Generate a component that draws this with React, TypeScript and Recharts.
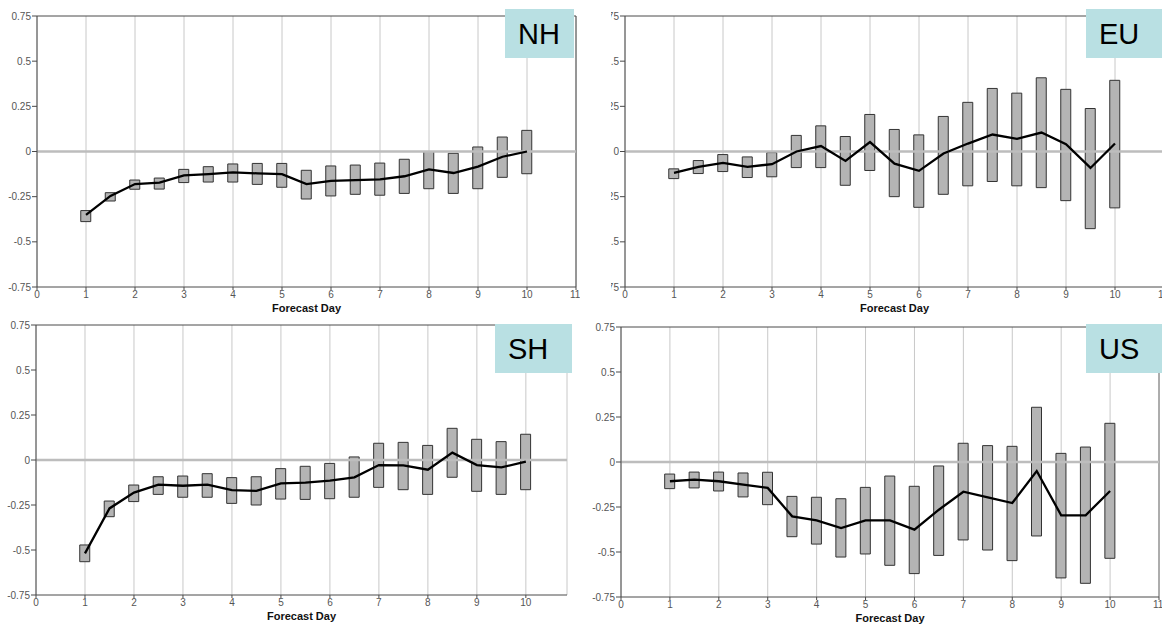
import {
  Bar,
  CartesianGrid,
  ComposedChart,
  Line,
  ReferenceLine,
  XAxis,
  YAxis,
} from 'recharts';

const DAYS = [1, 1.5, 2, 2.5, 3, 3.5, 4, 4.5, 5, 5.5, 6, 6.5, 7, 7.5, 8, 8.5, 9, 9.5, 10];
const Y_TICKS = [-0.75, -0.5, -0.25, 0, 0.25, 0.5, 0.75];
const X_TICKS_11 = [0, 1, 2, 3, 4, 5, 6, 7, 8, 9, 10, 11];
const X_TICKS_10 = [0, 1, 2, 3, 4, 5, 6, 7, 8, 9, 10];

const NH_MEAN = [-0.351, -0.246, -0.18, -0.172, -0.132, -0.125, -0.115, -0.121, -0.125, -0.18, -0.163, -0.158, -0.154, -0.137, -0.099, -0.119, -0.084, -0.029, 0.0];
const NH_LOW = [-0.388, -0.274, -0.209, -0.208, -0.172, -0.169, -0.169, -0.182, -0.198, -0.263, -0.246, -0.237, -0.242, -0.232, -0.206, -0.232, -0.206, -0.143, -0.123];
const NH_HIGH = [-0.327, -0.228, -0.158, -0.147, -0.099, -0.084, -0.069, -0.066, -0.066, -0.104, -0.08, -0.075, -0.064, -0.043, 0.0, -0.01, 0.025, 0.08, 0.117];

const EU_MEAN = [-0.118, -0.085, -0.063, -0.085, -0.07, 0.0, 0.03, -0.052, 0.052, -0.067, -0.107, -0.011, 0.044, 0.094, 0.07, 0.105, 0.041, -0.091, 0.044];
const EU_LOW = [-0.15, -0.122, -0.111, -0.144, -0.14, -0.089, -0.089, -0.187, -0.105, -0.25, -0.309, -0.237, -0.19, -0.166, -0.19, -0.2, -0.272, -0.427, -0.312];
const EU_HIGH = [-0.096, -0.05, -0.017, -0.03, -0.006, 0.089, 0.142, 0.083, 0.205, 0.122, 0.092, 0.194, 0.272, 0.349, 0.323, 0.408, 0.344, 0.238, 0.394];

const SH_MEAN = [-0.519, -0.269, -0.181, -0.137, -0.143, -0.137, -0.167, -0.172, -0.13, -0.126, -0.115, -0.096, -0.028, -0.03, -0.054, 0.041, -0.028, -0.041, -0.009];
const SH_LOW = [-0.565, -0.315, -0.231, -0.191, -0.207, -0.207, -0.241, -0.25, -0.217, -0.219, -0.215, -0.207, -0.152, -0.165, -0.191, -0.096, -0.174, -0.191, -0.165];
const SH_HIGH = [-0.472, -0.228, -0.139, -0.093, -0.089, -0.076, -0.098, -0.093, -0.048, -0.035, -0.019, 0.017, 0.093, 0.098, 0.081, 0.176, 0.115, 0.102, 0.143];

const US_MEAN = [-0.107, -0.098, -0.107, -0.126, -0.144, -0.302, -0.324, -0.367, -0.324, -0.324, -0.376, -0.265, -0.165, -0.196, -0.228, -0.05, -0.296, -0.296, -0.161];
const US_LOW = [-0.148, -0.144, -0.161, -0.194, -0.237, -0.415, -0.456, -0.528, -0.511, -0.574, -0.62, -0.519, -0.433, -0.489, -0.548, -0.411, -0.644, -0.674, -0.535];
const US_HIGH = [-0.067, -0.056, -0.056, -0.061, -0.057, -0.191, -0.196, -0.204, -0.141, -0.078, -0.135, -0.022, 0.104, 0.091, 0.087, 0.304, 0.048, 0.083, 0.215];

const AXIS = '#4a4a4a';
const TEXT = '#555';
const FONT = '"Liberation Sans", Arial, sans-serif';

function buildRows(mean: number[], low: number[], high: number[]) {
  return DAYS.map((day, i) => ({ day, range: [low[i], high[i]], mean: mean[i] }));
}

type PanelProps = {
  rows: { day: number; range: number[]; mean: number }[];
  width: number;
  height: number;
  xMax: number;
  xTicks: number[];
  yAxisWidth: number;
  rightBorder?: string;
};

function Panel({ rows, width, height, xMax, xTicks, yAxisWidth, rightBorder }: PanelProps) {
  return (
    <ComposedChart
      width={width}
      height={height}
      data={rows}
      margin={{ top: 16, right: 4, left: 0, bottom: 0 }}
      style={{ fontFamily: FONT }}
    >
      <CartesianGrid vertical horizontal={false} stroke="#c8c8c8" />
      <XAxis
        dataKey="day"
        type="number"
        scale="linear"
        domain={[0, xMax]}
        allowDataOverflow
        ticks={xTicks}
        height={33}
        stroke={AXIS}
        tickSize={3}
        tickMargin={1}
        tick={{ fontSize: 10, fill: TEXT }}
        label={{ value: 'Forecast Day', position: 'insideBottom', offset: 8, fontSize: 11, fontWeight: 700, fill: '#111' }}
      />
      <YAxis
        type="number"
        domain={[-0.75, 0.75]}
        ticks={Y_TICKS}
        width={yAxisWidth}
        stroke={AXIS}
        tickSize={5}
        tickMargin={1}
        tick={{ fontSize: 10, fill: TEXT }}
      />
      <ReferenceLine y={0.75} stroke={AXIS} strokeWidth={1} />
      {rightBorder && <ReferenceLine x={xMax} stroke={rightBorder} strokeWidth={1} />}
      <ReferenceLine y={0} stroke="#bdbdbd" strokeWidth={2.5} />
      <Bar dataKey="range" barSize={10} fill="#b4b4b4" stroke="#333" strokeWidth={1} isAnimationActive={false} />
      <Line dataKey="mean" stroke="#000" strokeWidth={2.3} dot={false} isAnimationActive={false} />
    </ComposedChart>
  );
}

function Tag({ text, left, top, width }: { text: string; left: number; top: number; width: number }) {
  return (
    <div
      style={{
        position: 'absolute',
        left,
        top,
        width,
        height: 49,
        background: '#b9e0e3',
        fontFamily: FONT,
        fontSize: 29,
        color: '#000',
        lineHeight: '51px',
        paddingLeft: 13,
        boxSizing: 'border-box',
      }}
    >
      {text}
    </div>
  );
}

export default function App() {
  return (
    <div style={{ position: 'fixed', left: 0, top: 0, width: 1162, height: 624, background: '#fff', overflow: 'hidden' }}>
      <div style={{ position: 'absolute', left: 0, top: 0 }}>
        <Panel rows={buildRows(NH_MEAN, NH_LOW, NH_HIGH)} width={580} height={320} xMax={11} xTicks={X_TICKS_11} yAxisWidth={37} rightBorder={AXIS} />
      </div>
      <div style={{ position: 'absolute', left: 611, top: 0, width: 551, height: 320, overflow: 'hidden' }}>
        <div style={{ position: 'absolute', left: -23, top: 0 }}>
          <Panel rows={buildRows(EU_MEAN, EU_LOW, EU_HIGH)} width={580} height={320} xMax={11} xTicks={X_TICKS_11} yAxisWidth={37} />
        </div>
      </div>
      <div style={{ position: 'absolute', left: 0, top: 309 }}>
        <Panel rows={buildRows(SH_MEAN, SH_LOW, SH_HIGH)} width={571} height={319} xMax={10.84} xTicks={X_TICKS_10} yAxisWidth={36} />
      </div>
      <div style={{ position: 'absolute', left: 584, top: 311 }}>
        <Panel rows={buildRows(US_MEAN, US_LOW, US_HIGH)} width={579} height={319} xMax={11} xTicks={X_TICKS_11} yAxisWidth={37} rightBorder="#777" />
      </div>
      <Tag text="NH" left={505} top={9} width={69} />
      <Tag text="EU" left={1086} top={9} width={80} />
      <Tag text="SH" left={495} top={324} width={77} />
      <Tag text="US" left={1086} top={324} width={80} />
    </div>
  );
}
